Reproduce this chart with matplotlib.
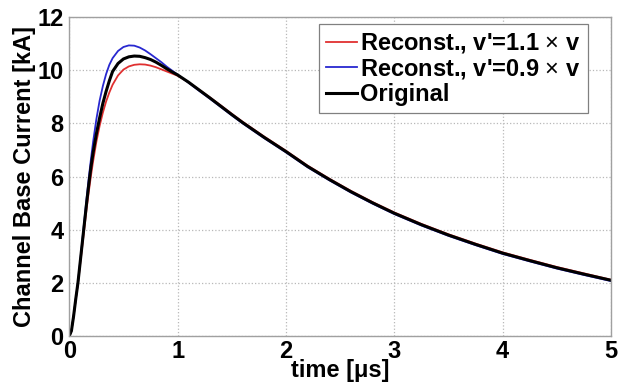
import matplotlib
matplotlib.use("Agg")
import matplotlib.pyplot as plt

plt.rcParams['font.family'] = ['Liberation Sans', 'DejaVu Sans']
plt.rcParams['mathtext.fontset'] = 'custom'
plt.rcParams['mathtext.rm'] = 'Liberation Sans'

time_us = [0, 0.02, 0.04, 0.06, 0.08, 0.10, 0.12, 0.14, 0.16, 0.18, 0.20, 0.22,
           0.25, 0.28, 0.31, 0.34, 0.37, 0.40, 0.45, 0.50, 0.55, 0.60, 0.65, 0.70,
           0.75, 0.80, 0.85, 0.90, 0.95, 1.0, 1.1, 1.2, 1.3, 1.4, 1.5, 1.6, 1.8,
           2.0, 2.2, 2.4, 2.6, 2.8, 3.0, 3.25, 3.5, 3.75, 4.0, 4.25, 4.5, 4.75, 5.0]

original = [0, 0.2, 0.75, 1.4, 2.0, 2.75, 3.5, 4.25, 5.0, 5.7, 6.35, 6.9,
            7.6, 8.2, 8.75, 9.2, 9.6, 9.95, 10.25, 10.42, 10.5, 10.53, 10.52, 10.47,
            10.4, 10.3, 10.18, 10.05, 9.93, 9.82, 9.55, 9.25, 8.95, 8.64, 8.33, 8.03, 7.47,
            6.94, 6.38, 5.89, 5.43, 5.01, 4.62, 4.19, 3.80, 3.45, 3.12, 2.84, 2.57, 2.33, 2.10]

reconst_11 = [0, 0.2, 0.75, 1.38, 1.97, 2.68, 3.38, 4.08, 4.78, 5.42, 6.02, 6.57,
              7.3, 7.9, 8.4, 8.82, 9.16, 9.45, 9.8, 10.02, 10.14, 10.2, 10.22, 10.21,
              10.17, 10.11, 10.03, 9.95, 9.87, 9.79, 9.55, 9.26, 8.97, 8.67, 8.36, 8.06, 7.5,
              6.97, 6.41, 5.92, 5.46, 5.04, 4.65, 4.22, 3.83, 3.48, 3.15, 2.87, 2.60, 2.36, 2.12]

reconst_09 = [0, 0.2, 0.75, 1.4, 2.0, 2.78, 3.58, 4.38, 5.18, 5.95, 6.65, 7.3,
              8.15, 8.85, 9.4, 9.85, 10.2, 10.45, 10.72, 10.87, 10.93, 10.92, 10.85, 10.74,
              10.6, 10.45, 10.3, 10.13, 9.98, 9.83, 9.53, 9.22, 8.92, 8.61, 8.30, 8.0, 7.44,
              6.91, 6.35, 5.86, 5.40, 4.98, 4.59, 4.16, 3.77, 3.42, 3.09, 2.81, 2.54, 2.30, 2.07]

labels = [r"Reconst., v'=1.1 $\times$ v", r"Reconst., v'=0.9 $\times$ v", "Original"]
x_ticks = [0, 1, 2, 3, 4, 5]
y_ticks = [0, 2, 4, 6, 8, 10, 12]

fig = plt.figure(figsize=(6.24, 3.85), dpi=100)
ax = fig.add_axes([0.111, 0.127, 0.868, 0.829])

ax.plot(time_us, reconst_11, color='#e03030', lw=1.3, label=labels[0])
ax.plot(time_us, reconst_09, color='#2828d0', lw=1.3, label=labels[1])
ax.plot(time_us, original, color='black', lw=2.2, label=labels[2])

ax.set_xlim(0, 5)
ax.set_ylim(0, 12)
ax.set_xticks(x_ticks)
ax.set_yticks(y_ticks)
ax.tick_params(axis='both', length=0, labelsize=17)
ax.tick_params(axis='x', pad=3)
ax.tick_params(axis='y', pad=4)
for lab in ax.get_xticklabels() + ax.get_yticklabels():
    lab.set_fontweight('bold')

ax.grid(True, color='#b8b8b8', linestyle=':', linewidth=0.9)
for s in ax.spines.values():
    s.set_color('#a0a0a0')
    s.set_linewidth(1.0)

ax.set_xlabel('time [\u03bcs]', fontsize=17, fontweight='bold', labelpad=-3)
ax.set_ylabel('Channel Base Current [kA]', fontsize=17, fontweight='bold', labelpad=1)

leg = ax.legend(loc='upper right', bbox_to_anchor=(0.957, 0.977),
                prop={'weight': 'bold', 'size': 17}, handlelength=1.3,
                handletextpad=0.15, labelspacing=0.08, borderpad=0.3,
                borderaxespad=0.0,
                fancybox=False, framealpha=1.0, edgecolor='#808080')
leg.get_frame().set_linewidth(0.9)

fig.savefig('out.png', dpi=100)
